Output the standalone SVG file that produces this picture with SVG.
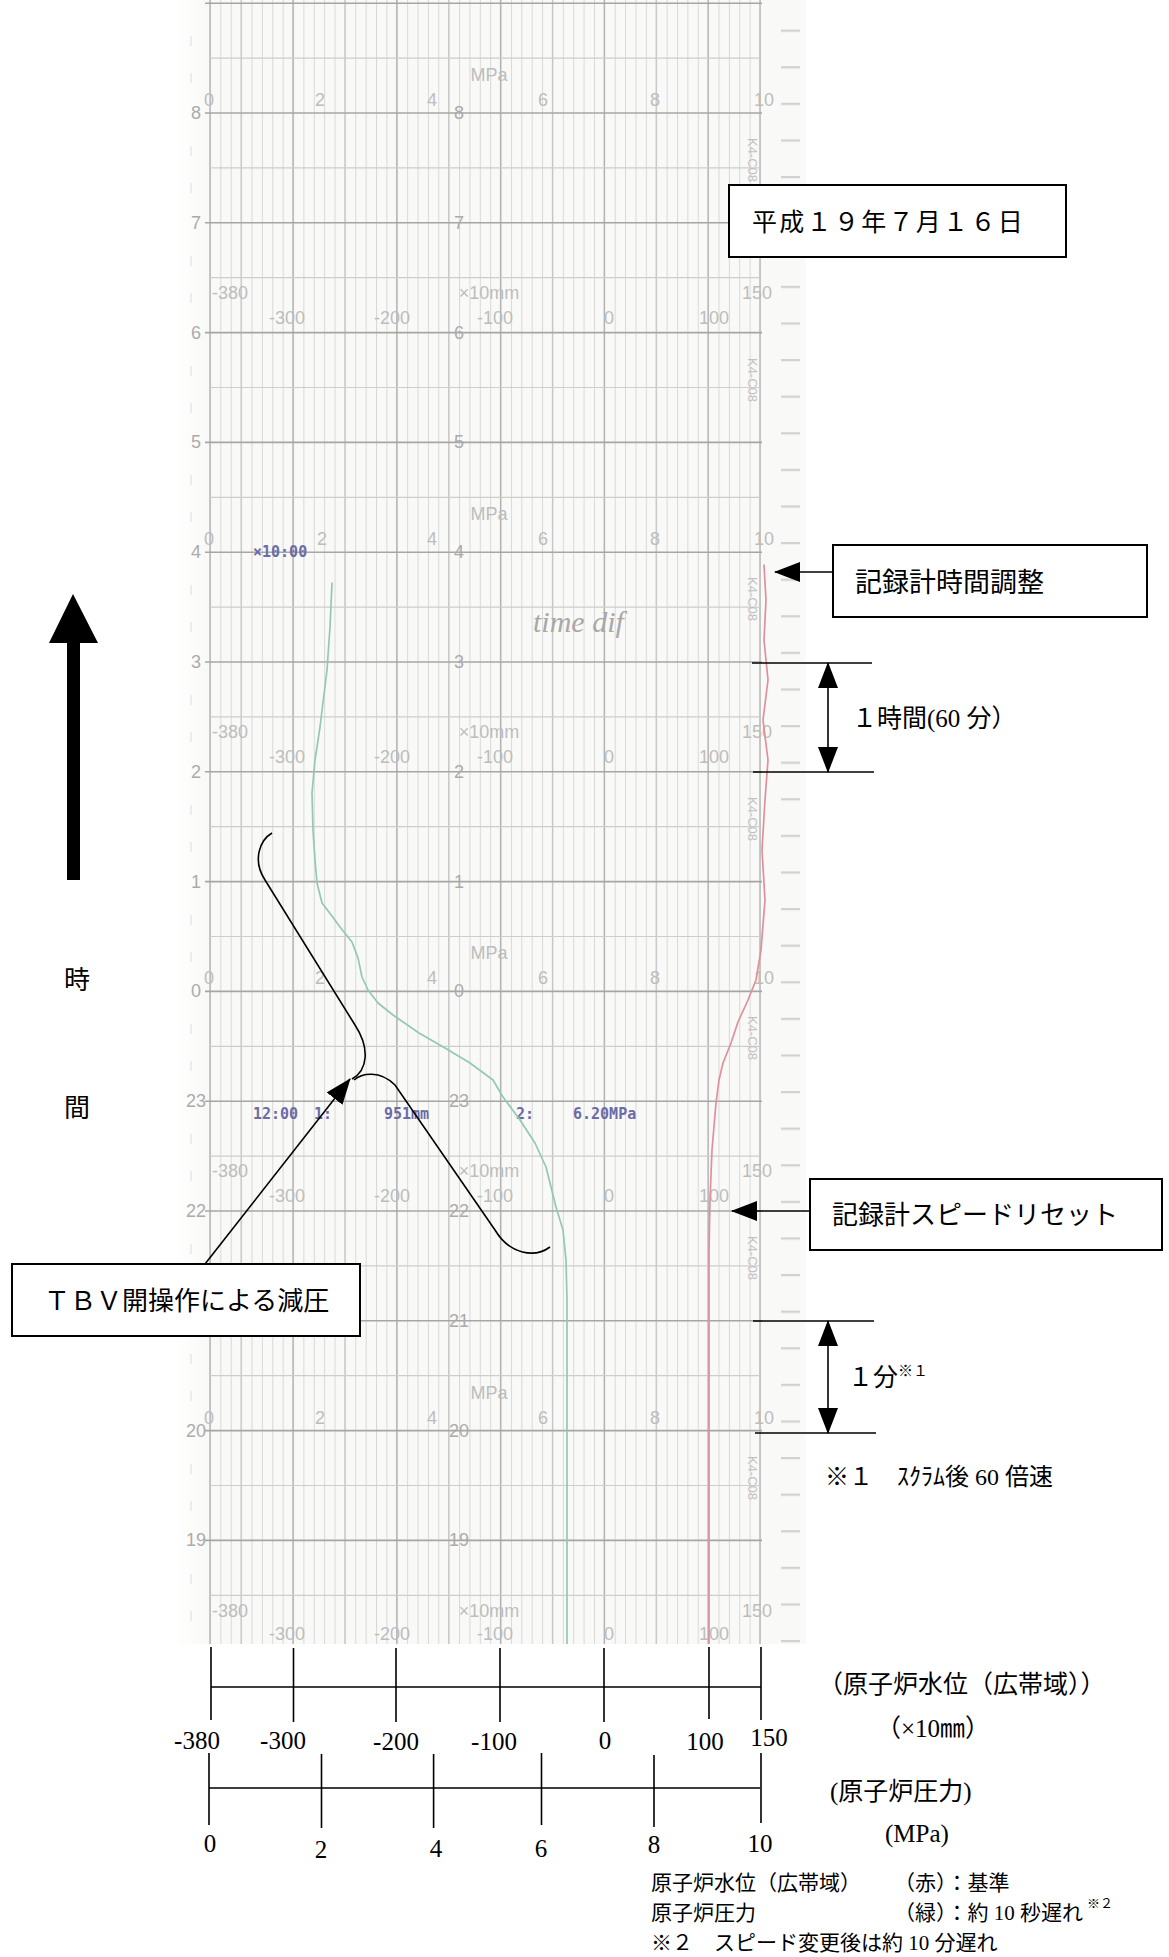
<svg xmlns="http://www.w3.org/2000/svg" width="1169" height="1957" viewBox="0 0 1169 1957">
<style>
.jp{font-family:"Liberation Serif","Noto Sans CJK JP",serif;fill:#000}
.lab{font-family:"Liberation Sans",Arial,sans-serif;font-size:18px;fill:#bdbdbd}
.hr{font-family:"Liberation Sans",Arial,sans-serif;font-size:18px;fill:#ababab;text-anchor:middle;dominant-baseline:central}
.prn{font-family:"DejaVu Sans Mono","Liberation Mono",monospace;font-weight:bold;font-size:15px;fill:#6b6ba8}
.mid{text-anchor:middle}
.box{fill:#fff;stroke:#000;stroke-width:2}
.ln{fill:none;stroke:#000;stroke-width:1.6}
</style>
<defs>
<marker id="ah" markerUnits="userSpaceOnUse" markerWidth="26" markerHeight="20" refX="25" refY="10" orient="auto-start-reverse"><path d="M0,0 L26,10 L0,20 z" fill="#000"/></marker>
<pattern id="vminor" patternUnits="userSpaceOnUse" x="210" y="0" width="10.3774" height="40"><line x1="0.5" y1="0" x2="0.5" y2="40" stroke="#d8d8d8" stroke-width="1"/></pattern>
<pattern id="rdash" patternUnits="userSpaceOnUse" x="781" y="29.6" width="20" height="36.6"><line x1="0" y1="1" x2="19" y2="1" stroke="#d2d2d2" stroke-width="2.5"/></pattern>
<linearGradient id="fadeL" x1="0" y1="0" x2="1" y2="0"><stop offset="0" stop-color="#fff" stop-opacity="1"/><stop offset="1" stop-color="#fff" stop-opacity="0"/></linearGradient>
<clipPath id="clipChart"><rect x="176" y="0" width="630" height="1644"/></clipPath>
</defs>
<rect width="1169" height="1957" fill="#fff"/>

<g id="chart" clip-path="url(#clipChart)">
<rect x="176" y="0" width="630" height="1644" fill="#f9f9f7"/>
<rect x="209.5" y="0" width="551" height="1644" fill="url(#vminor)"/>
<path d="M241.1,0V1644M344.9,0V1644M448.7,0V1644M552.5,0V1644M656.2,0V1644" stroke="#c6c6c6" stroke-width="1.2"/>
<path d="M210,0V1644M293,0V1644M396.8,0V1644M500.6,0V1644M604.3,0V1644M708.1,0V1644M760,0V1644" stroke="#b4b4b4" stroke-width="1.4"/>
<path d="M210,58.1H760M210,167.9H760M210,277.7H760M210,387.5H760M210,497.3H760M210,607.1H760M210,716.9H760M210,826.7H760M210,936.5H760M210,1046.3H760M210,1156.1H760M210,1265.9H760M210,1375.7H760M210,1485.5H760M210,1595.3H760" stroke="#cdcdcd" stroke-width="1.2"/>
<path d="M205,3.2H762M205,113H762M205,222.8H762M205,332.6H762M205,442.4H762M205,552.2H762M205,662H762M205,771.8H762M205,881.6H762M205,991.4H762M205,1101.2H762M205,1211H762M205,1320.8H762M205,1430.6H762M205,1540.4H762" stroke="#a6a6a6" stroke-width="1.6"/>
<rect x="781" y="0" width="20" height="1644" fill="url(#rdash)"/>
<path d="M191,36V46M191,73V83M191,146V156M191,183V193M191,256V266M191,293V303M191,366V376M191,403V413M191,475V485M191,512V522M191,585V595M191,622V632M191,695V705M191,732V742M191,805V815M191,842V852M191,915V925M191,952V962M191,1024V1034M191,1061V1071M191,1134V1144M191,1171V1181M191,1244V1254M191,1354V1364M191,1391V1401M191,1464V1474M191,1501V1511M191,1574V1584M191,1611V1621" stroke="#d0d0d0" stroke-width="1.5"/>
<rect x="176" y="0" width="30" height="1644" fill="url(#fadeL)"/>

<g id="hour-labels">
<text class="hr" x="196" y="113">8</text><text class="hr" x="459" y="113">8</text>
<text class="hr" x="196" y="222.8">7</text><text class="hr" x="459" y="222.8">7</text>
<text class="hr" x="196" y="332.6">6</text><text class="hr" x="459" y="332.6">6</text>
<text class="hr" x="196" y="442.4">5</text><text class="hr" x="459" y="442.4">5</text>
<text class="hr" x="196" y="552.2">4</text><text class="hr" x="459" y="552.2">4</text>
<text class="hr" x="196" y="662">3</text><text class="hr" x="459" y="662">3</text>
<text class="hr" x="196" y="771.8">2</text><text class="hr" x="459" y="771.8">2</text>
<text class="hr" x="196" y="881.6">1</text><text class="hr" x="459" y="881.6">1</text>
<text class="hr" x="196" y="991.4">0</text><text class="hr" x="459" y="991.4">0</text>
<text class="hr" x="196" y="1101.2">23</text><text class="hr" x="459" y="1101.2">23</text>
<text class="hr" x="196" y="1211">22</text><text class="hr" x="459" y="1211">22</text>
<text class="hr" x="459" y="1320.8">21</text>
<text class="hr" x="196" y="1430.6">20</text><text class="hr" x="459" y="1430.6">20</text>
<text class="hr" x="196" y="1540.4">19</text><text class="hr" x="459" y="1540.4">19</text>
</g>

<g id="mpa-scales" class="lab">
<text x="489" y="81" class="mid">MPa</text>
<text x="209" y="106" class="mid">0</text><text x="320" y="106" class="mid">2</text><text x="432" y="106" class="mid">4</text><text x="543" y="106" class="mid">6</text><text x="655" y="106" class="mid">8</text><text x="764" y="106" class="mid">10</text>
<text x="489" y="520" class="mid">MPa</text>
<text x="209" y="545" class="mid">0</text><text x="322" y="545" class="mid">2</text><text x="432" y="545" class="mid">4</text><text x="543" y="545" class="mid">6</text><text x="655" y="545" class="mid">8</text><text x="764" y="545" class="mid">10</text>
<text x="489" y="959" class="mid">MPa</text>
<text x="209" y="984" class="mid">0</text><text x="320" y="984" class="mid">2</text><text x="432" y="984" class="mid">4</text><text x="543" y="984" class="mid">6</text><text x="655" y="984" class="mid">8</text><text x="764" y="984" class="mid">10</text>
<text x="489" y="1399" class="mid">MPa</text>
<text x="209" y="1424" class="mid">0</text><text x="320" y="1424" class="mid">2</text><text x="432" y="1424" class="mid">4</text><text x="543" y="1424" class="mid">6</text><text x="655" y="1424" class="mid">8</text><text x="764" y="1424" class="mid">10</text>
</g>

<g id="level-scales" class="lab">
<text x="230" y="299" class="mid">-380</text><text x="489" y="299" class="mid">×10mm</text><text x="757" y="299" class="mid">150</text>
<text x="287" y="324" class="mid">-300</text><text x="392" y="324" class="mid">-200</text><text x="495" y="324" class="mid">-100</text><text x="609" y="324" class="mid">0</text><text x="714" y="324" class="mid">100</text>
<text x="230" y="738" class="mid">-380</text><text x="489" y="738" class="mid">×10mm</text><text x="757" y="738" class="mid">150</text>
<text x="287" y="763" class="mid">-300</text><text x="392" y="763" class="mid">-200</text><text x="495" y="763" class="mid">-100</text><text x="609" y="763" class="mid">0</text><text x="714" y="763" class="mid">100</text>
<text x="230" y="1177" class="mid">-380</text><text x="489" y="1177" class="mid">×10mm</text><text x="757" y="1177" class="mid">150</text>
<text x="287" y="1202" class="mid">-300</text><text x="392" y="1202" class="mid">-200</text><text x="495" y="1202" class="mid">-100</text><text x="609" y="1202" class="mid">0</text><text x="714" y="1202" class="mid">100</text>
<text x="230" y="1617" class="mid">-380</text><text x="489" y="1617" class="mid">×10mm</text><text x="757" y="1617" class="mid">150</text>
<text x="287" y="1640" class="mid">-300</text><text x="392" y="1640" class="mid">-200</text><text x="495" y="1640" class="mid">-100</text><text x="609" y="1640" class="mid">0</text><text x="714" y="1640" class="mid">100</text>
</g>

<g id="chart-ids" font-family="Liberation Sans,Arial,sans-serif" font-size="13" fill="#c2c2c2">
<text transform="translate(748,160) rotate(90)" class="mid">K4-C08</text>
<text transform="translate(748,380) rotate(90)" class="mid">K4-C08</text>
<text transform="translate(748,599) rotate(90)" class="mid">K4-C08</text>
<text transform="translate(748,819) rotate(90)" class="mid">K4-C08</text>
<text transform="translate(748,1038) rotate(90)" class="mid">K4-C08</text>
<text transform="translate(748,1258) rotate(90)" class="mid">K4-C08</text>
<text transform="translate(748,1478) rotate(90)" class="mid">K4-C08</text>
</g>

<g id="printed">
<text class="prn" x="253" y="557">×10:00</text>
<text class="prn" x="253" y="1119">12:00</text>
<text class="prn" x="314" y="1119">1:</text>
<text class="prn" x="384" y="1119">951mm</text>
<text class="prn" x="516" y="1119">2:</text>
<text class="prn" x="573" y="1119">6.20MPa</text>
<text x="533" y="632" font-family="Liberation Serif,serif" font-style="italic" font-size="30" fill="#a8a8a8">time dif</text>
</g>

<g id="traces" fill="none" stroke-width="1.7" stroke-linejoin="round" stroke-linecap="round">
<path id="pressure-green" stroke="#93c9b3" d="M332,583 L330,627 L327,670 L320,727 L315,760 L312,793 L313,830 L315,860 L317,883 L322,903 L332,916 L340,927 L352,942 L358,958 L362,977 L368,990 L378,1003 L393,1015 L419,1033 L445,1048 L470,1063 L493,1080 L503,1097 L520,1120 L535,1143 L546,1167 L556,1207 L563,1230 L566,1260 L567,1300 L567,1644"/>
<path id="level-red" stroke="#e0909c" d="M764,565 L766,600 L764,640 L768,680 L763,720 L768,760 L765,800 L762,850 L765,900 L761,950 L756,980 L748,1000 L738,1022 L731,1043 L723,1063 L719,1080 L716,1103 L712,1150 L710,1200 L709,1250 L709,1644"/>
</g>
</g>

<g id="time-arrow">
<path d="M73,594 L98,643 L80,643 L80,880 L67,880 L67,643 L49,643 z" fill="#000"/>
<text class="jp mid" x="77" y="989" font-size="26">時</text>
<text class="jp mid" x="77" y="1117" font-size="26">間</text>
</g>

<g id="node-date">
<rect class="box" x="729" y="185" width="337" height="72"/>
<text class="jp" x="752" y="231" font-size="25" letter-spacing="2.3">平成１９年７月１６日</text>
</g>

<g id="node-time-adjust">
<rect class="box" x="833" y="545" width="314" height="72"/>
<text class="jp" x="855" y="592" font-size="27">記録計時間調整</text>
</g>

<g id="node-speed-reset">
<rect class="box" x="810" y="1179" width="352" height="71"/>
<text class="jp" x="832" y="1224" font-size="26">記録計スピードリセット</text>
</g>

<g id="node-tbv">
<rect class="box" x="12" y="1264" width="348" height="72"/>
<text class="jp" x="44" y="1310" font-size="26">ＴＢＶ開操作による減圧</text>
</g>

<g id="node-one-hour">
<text class="jp" x="852" y="727" font-size="25">１時間(60 分）</text>
</g>

<g id="node-one-minute">
<text class="jp" x="848" y="1386" font-size="25">１分</text>
<text class="jp" x="898" y="1376" font-size="15">※１</text>
<text class="jp" x="825" y="1485" font-size="24">※１　ｽｸﾗﾑ後 60 倍速</text>
</g>

<g id="connectors">
<line class="ln" x1="833" y1="572" x2="775" y2="572" marker-end="url(#ah)"/>
<line class="ln" x1="810" y1="1211" x2="732" y2="1211" marker-end="url(#ah)"/>
<line class="ln" x1="752" y1="663" x2="872" y2="663"/>
<line class="ln" x1="753" y1="772" x2="874" y2="772"/>
<line class="ln" x1="828" y1="663" x2="828" y2="772" marker-start="url(#ah)" marker-end="url(#ah)"/>
<line class="ln" x1="753" y1="1321" x2="874" y2="1321"/>
<line class="ln" x1="755" y1="1433" x2="876" y2="1433"/>
<line class="ln" x1="828" y1="1321" x2="828" y2="1433" marker-start="url(#ah)" marker-end="url(#ah)"/>
<line class="ln" x1="205" y1="1264" x2="350" y2="1079" marker-end="url(#ah)"/>
<path class="ln" d="M272,833 C260,840 252,860 265,880 L355,1025 C370,1048 368,1070 352,1079"/>
<path class="ln" d="M354,1080 C362,1073 380,1070 395,1085 L495,1230 C510,1255 535,1258 550,1247"/>
</g>

<g id="axes">
<path class="ln" stroke-width="2" d="M211,1687H761M211,1647V1720M293.5,1648V1722M396,1648V1722M500,1648V1722M604,1648V1722M709,1647V1719M761,1647V1720"/>
<path class="ln" stroke-width="2" d="M209,1788H760M209,1753V1825M321.5,1754V1828M433.6,1754V1828M541.5,1753V1825M654,1755V1827M761,1753V1823"/>
<g class="jp" font-size="25">
<text class="mid" x="197" y="1749">-380</text>
<text class="mid" x="283" y="1749">-300</text>
<text class="mid" x="396" y="1750">-200</text>
<text class="mid" x="494" y="1750">-100</text>
<text class="mid" x="605" y="1749">0</text>
<text class="mid" x="705" y="1750">100</text>
<text class="mid" x="769" y="1746">150</text>
<text class="mid" x="210" y="1852">0</text>
<text class="mid" x="321" y="1858">2</text>
<text class="mid" x="436" y="1857">4</text>
<text class="mid" x="541" y="1857">6</text>
<text class="mid" x="654" y="1853">8</text>
<text class="mid" x="760" y="1852">10</text>
<text x="818" y="1693">（原子炉水位（広帯域））</text>
<text x="876" y="1737">（×10㎜）</text>
<text x="830" y="1800">(原子炉圧力)</text>
<text x="885" y="1842">(MPa)</text>
</g>
</g>

<g id="legend" class="jp" font-size="21">
<text x="651" y="1890">原子炉水位（広帯域）</text>
<text x="894" y="1890">（赤）：基準</text>
<text x="651" y="1920">原子炉圧力</text>
<text x="894" y="1920">（緑）：約 10 秒遅れ</text>
<text x="1087" y="1908" font-size="13">※２</text>
<text x="651" y="1950">※２　スピード変更後は約 10 分遅れ</text>
</g>
</svg>
